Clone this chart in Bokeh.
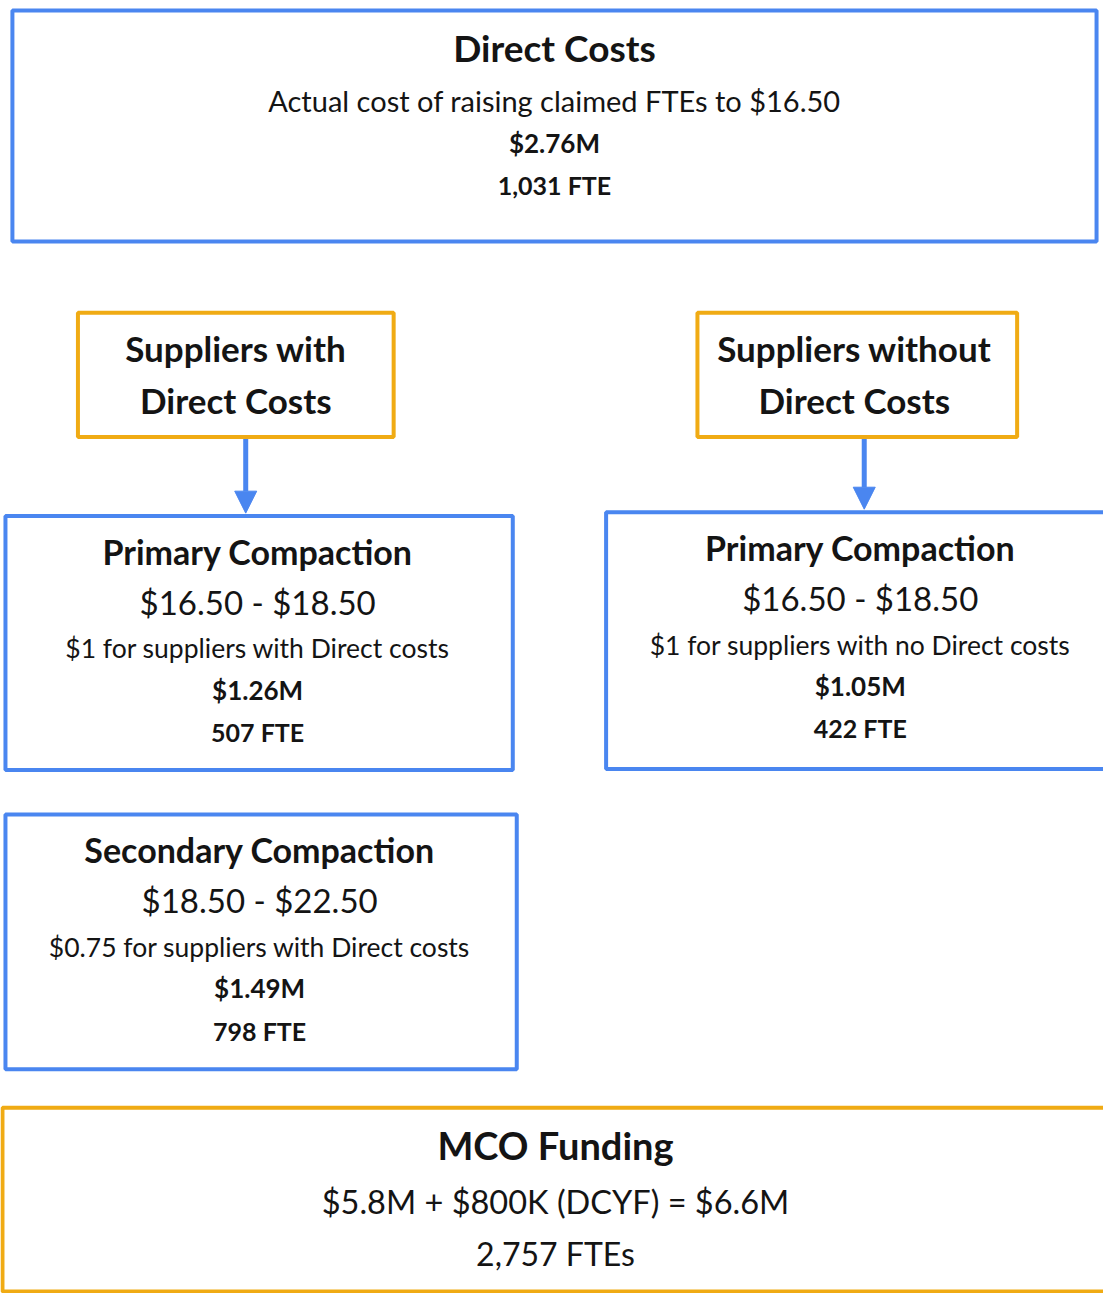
from bokeh.plotting import figure
from bokeh.models import Range1d, Arrow, NormalHead
from bokeh.core.properties import value
from bokeh.embed import file_html
from bokeh.resources import INLINE

BLUE = "#4a86f0"
ORANGE = "#f0ab14"
INK = "#141414"
FONT = "Lato"

# ---- content ----
top_title = "Direct Costs"
top_lines = ["Actual cost of raising claimed FTEs to $16.50", "$2.76M", "1,031 FTE"]

left_head = ["Suppliers with", "Direct Costs"]
right_head = ["Suppliers without", "Direct Costs"]

prim_title = "Primary Compaction"
prim_range = "$16.50 - $18.50"
prim_left_note = "$1 for suppliers with Direct costs"
prim_left_vals = ["$1.26M", "507 FTE"]
prim_right_note = "$1 for suppliers with no Direct costs"
prim_right_vals = ["$1.05M", "422 FTE"]

sec_title = "Secondary Compaction"
sec_range = "$18.50 - $22.50"
sec_note = "$0.75 for suppliers with Direct costs"
sec_vals = ["$1.49M", "798 FTE"]

mco_title = "MCO Funding"
mco_lines = ["$5.8M + $800K (DCYF) = $6.6M", "2,757 FTEs"]

p = figure(width=1103, height=1293, output_backend="svg", toolbar_location=None,
           x_range=Range1d(0, 1111), y_range=Range1d(1309, 0), min_border=0)
p.axis.visible = False
p.grid.visible = False
p.outline_line_color = None
p.background_fill_color = "white"
p.border_fill_color = "white"


def box(l, r, t, b, color, lw=4):
    p.quad(left=[l], right=[r], top=[t], bottom=[b], fill_color="white",
           line_color=color, line_width=lw)


def txt(x, y, s, size, bold=False):
    p.text(x=[x], y=[y], text=[s], text_align="center", text_baseline="middle",
           text_font=value(FONT), text_font_size=f"{size}px",
           text_font_style="bold" if bold else "normal", text_color=INK)


# top box
box(12, 1104, 10, 244, BLUE)
txt(558, 48, top_title, 37, True)
txt(558, 101, top_lines[0], 29)
txt(558, 144, top_lines[1], 26, True)
txt(558, 187, top_lines[2], 25, True)

# supplier boxes
box(78, 396, 316, 442, ORANGE)
txt(237, 352, left_head[0], 35, True)
txt(237, 404, left_head[1], 35, True)
box(702, 1024, 316, 442, ORANGE)
txt(860, 352, right_head[0], 35, True)
txt(860, 404, right_head[1], 35, True)

# arrows
for x, y0, y1 in [(247, 444, 519), (870, 444, 515)]:
    p.add_layout(Arrow(end=NormalHead(size=22, fill_color=BLUE, line_color=BLUE),
                       x_start=x, y_start=y0, x_end=x, y_end=y1,
                       line_color=BLUE, line_width=5))

# primary left
box(5, 516, 522, 779, BLUE)
txt(259, 558, prim_title, 34, True)
txt(259, 609, prim_range, 33)
txt(259, 656, prim_left_note, 26.5)
txt(259, 698, prim_left_vals[0], 26, True)
txt(259, 741, prim_left_vals[1], 25, True)

# primary right
box(610, 1120, 518, 778, BLUE)
txt(866, 554, prim_title, 34, True)
txt(866, 605, prim_range, 33)
txt(866, 652, prim_right_note, 26.5)
txt(866, 694, prim_right_vals[0], 26, True)
txt(866, 737, prim_right_vals[1], 25, True)

# secondary
box(5, 520, 824, 1082, BLUE)
txt(261, 860, sec_title, 34, True)
txt(261, 911, sec_range, 33)
txt(261, 958, sec_note, 26.5)
txt(261, 1000, sec_vals[0], 26, True)
txt(261, 1043, sec_vals[1], 25, True)

# MCO
box(2, 1120, 1121, 1307, ORANGE)
txt(559, 1159, mco_title, 38, True)
txt(559, 1216, mco_lines[0], 32.5)
txt(559, 1268, mco_lines[1], 32)

open("out.html", "w").write(file_html(p, INLINE))
